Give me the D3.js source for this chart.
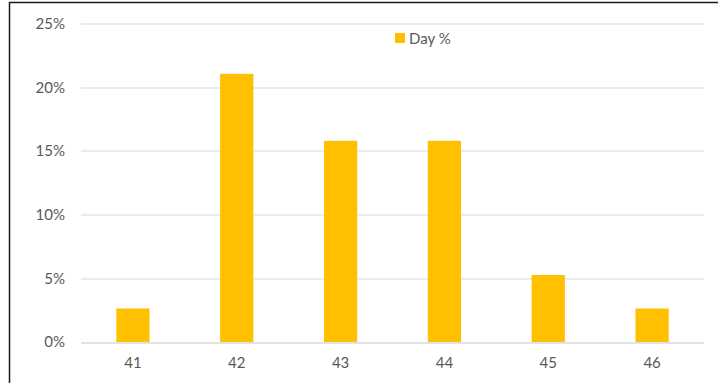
<!DOCTYPE html>
<html>
<head>
<meta charset="utf-8">
<script src="https://cdn.jsdelivr.net/npm/d3@7"></script>
<style>
  body { margin: 0; background: #fff; }
  text { font-family: Lato, "Open Sans", sans-serif; fill: #595959; }
</style>
</head>
<body>
<div id="chart"></div>
<script>
var svgWidth = 718;
var svgHeight = 383;

// data
var categories = ["41", "42", "43", "44", "45", "46"];
var dayPct = [0.0263, 0.2105, 0.1579, 0.1579, 0.0526, 0.0263];
var yTicks = [0, 0.05, 0.10, 0.15, 0.20, 0.25];
var seriesName = "Day %";

var margin = { top: 23.5, right: 14, bottom: 41, left: 81 };
var width = svgWidth - margin.left - margin.right;
var height = svgHeight - margin.top - margin.bottom;

var svg = d3.select("#chart")
  .append("svg")
  .attr("width", svgWidth)
  .attr("height", svgHeight);

// chart frame (only top and left edges are visible in the crop)
svg.append("rect")
  .attr("x", 9.5)
  .attr("y", 2.5)
  .attr("width", svgWidth + 10)
  .attr("height", svgHeight + 10)
  .attr("fill", "none")
  .attr("stroke", "#1a1a1a")
  .attr("stroke-width", 1.5);

var chartGroup = svg.append("g")
  .attr("transform", `translate(${margin.left}, ${margin.top})`);

var xScale = d3.scaleBand()
  .domain(categories)
  .range([0, width])
  .paddingInner(0.68)
  .paddingOuter(0.34);

var yScale = d3.scaleLinear()
  .domain([0, 0.25])
  .range([height, 0]);

// gridlines
chartGroup.append("g")
  .selectAll("line")
  .data(yTicks)
  .enter()
  .append("line")
  .attr("x1", 0)
  .attr("x2", width)
  .attr("y1", d => Math.round(yScale(d)) + 0.5)
  .attr("y2", d => Math.round(yScale(d)) + 0.5)
  .attr("stroke", "#d9d9d9")
  .attr("stroke-width", 1);

// y axis labels
var leftAxis = d3.axisLeft(yScale)
  .tickValues(yTicks)
  .tickFormat(d3.format(".0%"))
  .tickSize(0)
  .tickPadding(16);

chartGroup.append("g")
  .call(leftAxis)
  .call(g => g.select(".domain").remove())
  .selectAll("text")
  .attr("font-size", "15px")
  .attr("font-family", "Lato, sans-serif")
  .attr("fill", "#595959");

// bars
chartGroup.selectAll("rect.bar")
  .data(dayPct)
  .enter()
  .append("rect")
  .attr("class", "bar")
  .attr("x", (d, i) => xScale(categories[i]))
  .attr("y", d => yScale(d))
  .attr("width", xScale.bandwidth())
  .attr("height", d => height - yScale(d))
  .attr("fill", "#FFC000");

// baseline on top of bars
chartGroup.append("line")
  .attr("x1", 0)
  .attr("x2", width)
  .attr("y1", Math.round(yScale(0)) + 0.5)
  .attr("y2", Math.round(yScale(0)) + 0.5)
  .attr("stroke", "#d9d9d9");

// x axis labels
var bottomAxis = d3.axisBottom(xScale)
  .tickSize(0)
  .tickPadding(15);

chartGroup.append("g")
  .attr("transform", `translate(0, ${height})`)
  .call(bottomAxis)
  .call(g => g.select(".domain").remove())
  .selectAll("text")
  .attr("font-size", "15px")
  .attr("font-family", "Lato, sans-serif")
  .attr("fill", "#595959");

// legend
var legend = svg.append("g")
  .attr("transform", "translate(395, 33)");

legend.append("rect")
  .attr("width", 10)
  .attr("height", 10)
  .attr("fill", "#FFC000");

legend.append("text")
  .attr("x", 14)
  .attr("y", 10.5)
  .attr("font-size", "15px")
  .text(seriesName);
</script>
</body>
</html>
